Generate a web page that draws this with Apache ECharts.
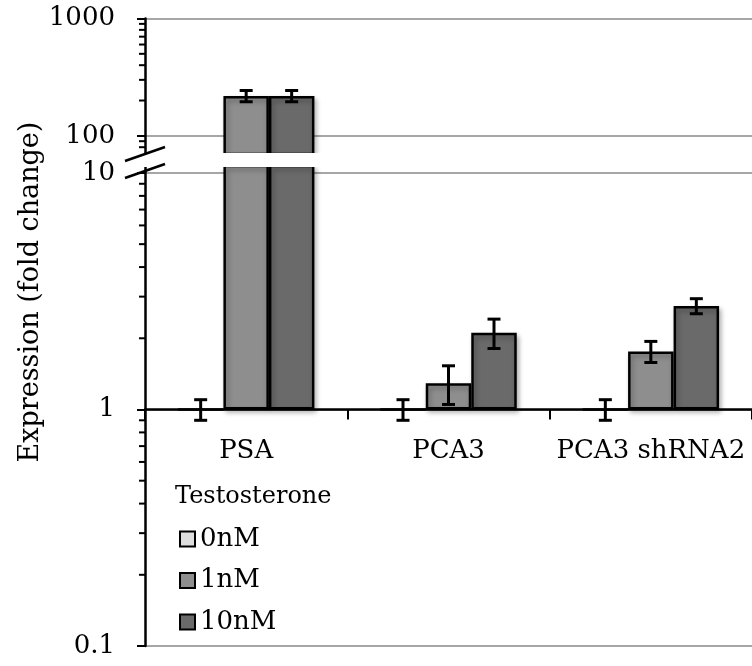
<!DOCTYPE html>
<html><head><meta charset="utf-8">
<script src="https://cdn.jsdelivr.net/npm/echarts@6/dist/echarts.min.js"></script>
<style>html,body{margin:0;padding:0;background:#fff}#c{width:752px;height:666px}</style>
</head><body><div id="c"></div>
<script>
// ---- data ----
const categories = ['PSA', 'PCA3', 'PCA3 shRNA2'];
const seriesNames = ['0nM', '1nM', '10nM'];
const values0nM = [1, 1, 1];
const values1nM = [219, 1.29, 1.76];
const values10nM = [219, 2.11, 2.74];
const errors0nM = [0.1, 0.1, 0.1];
const errors1nM = [24, 0.24, 0.18];
const errors10nM = [24, 0.3, 0.2];
const upperTickLabels = [100, 1000];
const lowerTickLabels = [0.1, 1, 10];
const upperMinorTicks = [80, 90, 200, 300, 400, 500, 600, 700, 800, 900];
const lowerMinorTicks = [0.2, 0.3, 0.4, 0.5, 0.6, 0.7, 0.8, 0.9, 2, 3, 4, 5, 6, 7, 8, 9];
const upperRange = [70, 1000];   // visible part above the axis break
const lowerRange = [0.1, 10.7];  // visible part below the axis break

// ---- style ----
const FONT = 'DejaVu Serif';
const COLORS = ['#dedede', '#8e8e8e', '#6a6a6a'];
const BAR_W = 45.5;
const CAP = 6.5;
const allValues = [values0nM, values1nM, values10nM];
const allErrors = [errors0nM, errors1nM, errors10nM];

const chart = echarts.init(document.getElementById('c'), null, {renderer: 'canvas'});

function labelFmt(list) {
  return function (v) {
    const r = +Number(v).toPrecision(4);
    return list.indexOf(r) >= 0 ? String(r) : '';
  };
}

const grids = [
  {left: 145, width: 615, top: 166, height: 480},     // lower (0.1 - 10)
  {left: 145, width: 615, top: 18.5, height: 135.5}   // upper (100 - 1000)
];

const xAxes = [
  {
    type: 'category', gridIndex: 0, data: categories, position: 'bottom', offset: -236.5,
    axisLine: {show: true, lineStyle: {color: '#000', width: 2.5}},
    axisTick: {show: true, length: 10, alignWithLabel: false, lineStyle: {color: '#000', width: 2}},
    axisLabel: {interval: 0, margin: 29, color: '#000', fontFamily: FONT, fontSize: 26},
    splitLine: {show: false}, z: 5
  },
  {
    type: 'category', gridIndex: 1, data: categories, show: false
  }
];

const yCommon = {
  type: 'log', logBase: 10,
  axisLine: {show: true, lineStyle: {color: '#000', width: 2.5}},
  axisTick: {show: true, length: 8, inside: false, lineStyle: {color: '#000', width: 2}},
  minorTick: {show: false}, minorSplitLine: {show: false}
};

const yAxes = [
  Object.assign({}, yCommon, {
    gridIndex: 0, min: lowerRange[0], max: lowerRange[1],
    splitLine: {show: true, showMaxLine: false, lineStyle: {color: '#a6a6a6', width: 2}},
    axisLabel: {margin: 30, color: '#000', fontFamily: FONT, fontSize: 26, formatter: labelFmt(lowerTickLabels)}
  }),
  Object.assign({}, yCommon, {
    gridIndex: 1, min: upperRange[0], max: upperRange[1],
    splitLine: {show: true, showMinLine: false, lineStyle: {color: '#a6a6a6', width: 2}},
    axisLabel: {margin: 30, color: '#000', fontFamily: FONT, fontSize: 26, formatter: labelFmt(upperTickLabels)}
  })
];

const series = [];
// bars in both grids
[0, 1].forEach(function (g) {
  seriesNames.forEach(function (name, i) {
    series.push({
      type: 'bar', name: name, xAxisIndex: g, yAxisIndex: g,
      data: allValues[i], barWidth: BAR_W, barGap: '0%', clip: true, z: 2,
      itemStyle: {
        color: COLORS[i], borderColor: '#000', borderWidth: 2.5,
        shadowColor: i === 0 ? 'rgba(0,0,0,0)' : 'rgba(0,0,0,0.3)',
        shadowBlur: 5, shadowOffsetX: 2, shadowOffsetY: 3
      },
      emphasis: {disabled: true}
    });
  });
});
// error bars in both grids
[0, 1].forEach(function (g) {
  seriesNames.forEach(function (name, i) {
    series.push({
      type: 'custom', name: 'err ' + name, xAxisIndex: g, yAxisIndex: g, clip: true, z: 4, silent: true,
      data: categories.map(function (c, k) { return [k, allValues[i][k], allErrors[i][k]]; }),
      encode: {x: 0, y: 1},
      renderItem: function (params, api) {
        const k = api.value(0), v = api.value(1), e = api.value(2);
        const x = api.coord([k, v])[0] + (i - 1) * BAR_W;
        const yt = api.coord([k, v + e])[1];
        const yb = api.coord([k, v - e])[1];
        const st = {stroke: '#000', lineWidth: 3};
        return {type: 'group', children: [
          {type: 'line', shape: {x1: x, y1: yt, x2: x, y2: yb}, style: st},
          {type: 'line', shape: {x1: x - CAP, y1: yt, x2: x + CAP, y2: yt}, style: st},
          {type: 'line', shape: {x1: x - CAP, y1: yb, x2: x + CAP, y2: yb}, style: st}
        ]};
      }
    });
  });
});
// minor ticks on the log axes
[[0, lowerMinorTicks], [1, upperMinorTicks]].forEach(function (pair) {
  const g = pair[0];
  series.push({
    type: 'custom', name: 'minor ' + g, xAxisIndex: g, yAxisIndex: g, clip: false, z: 5, silent: true,
    data: pair[1].map(function (v) { return [0, v]; }),
    encode: {x: 0, y: 1},
    renderItem: function (params, api) {
      const y = api.coord([0, api.value(1)])[1];
      const x0 = params.coordSys.x;
      return {type: 'line', shape: {x1: x0 - 6, y1: y, x2: x0, y2: y}, style: {stroke: '#000', lineWidth: 2}};
    }
  });
});

chart.setOption({
  animation: false,
  backgroundColor: '#fff',
  grid: grids,
  xAxis: xAxes,
  yAxis: yAxes,
  title: {
    text: 'Testosterone', left: 175, top: 484, padding: 0,
    textStyle: {fontFamily: FONT, fontSize: 24, fontWeight: 'normal', color: '#000', lineHeight: 26}
  },
  legend: {
    data: seriesNames, orient: 'vertical', left: 179, top: 524, padding: 0,
    itemWidth: 15, itemHeight: 15, itemGap: 11.5, icon: 'rect', selectedMode: false,
    textStyle: {fontFamily: FONT, fontSize: 26, color: '#000', lineHeight: 30},
    itemStyle: {borderColor: '#000', borderWidth: 2, shadowBlur: 0, shadowOffsetX: 0, shadowOffsetY: 0}
  },
  graphic: [
    {type: 'rect', z: 100, shape: {x: 122, y: 153, width: 640, height: 14}, style: {fill: '#fff'}, silent: true},
    {type: 'line', z: 101, shape: {x1: 125, y1: 161, x2: 165, y2: 147}, style: {stroke: '#000', lineWidth: 2.5}, silent: true},
    {type: 'line', z: 101, shape: {x1: 125, y1: 178, x2: 165, y2: 164}, style: {stroke: '#000', lineWidth: 2.5}, silent: true},
    {type: 'text', z: 101, x: 31, y: 292, rotation: Math.PI / 2, silent: true,
     style: {text: 'Expression (fold change)', fontFamily: FONT, fontSize: 27, fill: '#000', align: 'center', verticalAlign: 'middle'}}
  ],
  series: series
});
</script>
</body></html>
